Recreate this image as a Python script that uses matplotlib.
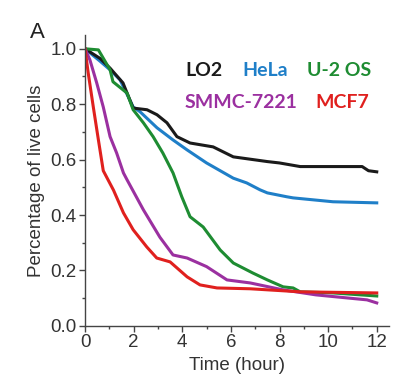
import matplotlib
matplotlib.use("Agg")
import matplotlib.pyplot as plt
from matplotlib.ticker import MultipleLocator

# values (time in hours, fraction of live cells)
lo2_t = [0, 0.62, 1.03, 1.56, 1.98, 2.55, 2.96, 3.37, 3.78, 4.32, 5.27, 6.1, 7.5, 8.0, 8.85, 10.2, 11.4, 11.66, 12]
lo2_y = [1.0, 0.965, 0.93, 0.877, 0.786, 0.78, 0.762, 0.733, 0.683, 0.66, 0.646, 0.61, 0.593, 0.588, 0.575, 0.575, 0.575, 0.56, 0.556]

hela_t = [0, 0.62, 1.03, 1.44, 1.98, 2.26, 2.96, 3.62, 4.2, 5.0, 6.1, 6.65, 7.2, 7.5, 8.3, 8.56, 10.2, 12]
hela_y = [1.0, 0.955, 0.924, 0.888, 0.79, 0.773, 0.715, 0.671, 0.635, 0.588, 0.533, 0.516, 0.491, 0.48, 0.466, 0.462, 0.448, 0.444]

u2os_t = [0, 0.55, 1.03, 1.15, 1.73, 1.98, 2.4, 2.8, 3.2, 3.62, 3.98, 4.32, 4.86, 5.56, 6.1, 6.9, 7.5, 8.15, 8.56, 8.85, 10.2, 12]
u2os_y = [1.0, 0.996, 0.924, 0.881, 0.84, 0.78, 0.733, 0.683, 0.624, 0.552, 0.466, 0.394, 0.357, 0.274, 0.227, 0.191, 0.166, 0.141, 0.137, 0.123, 0.119, 0.108]

smmc_t = [0, 0.2, 0.48, 0.75, 1.03, 1.3, 1.58, 1.73, 2.4, 3.08, 3.62, 4.2, 5.0, 5.84, 6.8, 8.15, 9.5, 11.6, 12]
smmc_y = [1.0, 0.96, 0.877, 0.79, 0.683, 0.624, 0.552, 0.527, 0.419, 0.32, 0.256, 0.245, 0.214, 0.166, 0.155, 0.13, 0.112, 0.094, 0.083]

mcf7_t = [0, 0.13, 0.34, 0.55, 0.75, 1.17, 1.58, 1.98, 2.54, 2.95, 3.5, 4.2, 4.73, 5.43, 6.8, 8.85, 12]
mcf7_y = [1.0, 0.913, 0.79, 0.671, 0.56, 0.49, 0.408, 0.347, 0.285, 0.245, 0.231, 0.177, 0.148, 0.137, 0.134, 0.123, 0.119]

fig = plt.figure(figsize=(4.03, 3.88), dpi=100)
ax = fig.add_axes([0.211, 0.160, 0.754, 0.750])

# draw order roughly as in the picture
ax.plot(hela_t, hela_y, color='#1f7fc8', lw=2.2)
ax.plot(lo2_t, lo2_y, color='#1a1a1a', lw=2.2)
ax.plot(u2os_t, u2os_y, color='#1e8c32', lw=2.2)
ax.plot(smmc_t, smmc_y, color='#9b30a0', lw=2.2)
ax.plot(mcf7_t, mcf7_y, color='#e0201e', lw=2.2)

ax.set_xlim(0, 12.5)
ax.set_ylim(0, 1.05)
ax.xaxis.set_minor_locator(MultipleLocator(1))
ax.yaxis.set_minor_locator(MultipleLocator(0.1))
ax.set_xticks([0, 2, 4, 6, 8, 10, 12])
ax.set_yticks([0, 0.2, 0.4, 0.6, 0.8, 1.0])
ax.set_yticklabels(['0.0', '0.2', '0.4', '0.6', '0.8', '1.0'])

for s in ['top', 'right']:
    ax.spines[s].set_visible(False)
for s in ['left', 'bottom']:
    ax.spines[s].set_color('#444444')
    ax.spines[s].set_linewidth(1.0)

ax.tick_params(which='major', direction='out', length=4, width=1, color='#444444',
               labelsize=13.5, labelcolor='#333333', pad=2)
ax.tick_params(which='minor', direction='out', length=2.5, width=1, color='#444444')
for lbl in ax.get_xticklabels() + ax.get_yticklabels():
    lbl.set_family('Liberation Sans')

ax.set_xlabel('Time (hour)', fontsize=13.5, family='Liberation Sans', color='#333333', labelpad=4)
ax.set_ylabel('Percentage of live cells', fontsize=13.5, family='Liberation Sans', color='#333333', labelpad=4)

# legend as coloured words
lkw = dict(fontsize=14, fontweight='bold', family='Lato', va='center', ha='left',
           transform=fig.transFigure)
fig.text(185 / 403, 1 - 70 / 388, 'LO2', color='#1a1a1a', **lkw)
fig.text(242 / 403, 1 - 70 / 388, 'HeLa', color='#1f7fc8', **lkw)
fig.text(307 / 403, 1 - 70 / 388, 'U-2 OS', color='#1e8c32', **lkw)
fig.text(185 / 403, 1 - 103 / 388, 'SMMC-7221', color='#9b30a0', **lkw)
fig.text(315 / 403, 1 - 103 / 388, 'MCF7', color='#e0201e', **lkw)

fig.text(30 / 403, 1 - 33 / 388, 'A', fontsize=16, family='Liberation Sans', color='#222222',
         va='center', ha='left')

fig.savefig('out.png', dpi=100)
